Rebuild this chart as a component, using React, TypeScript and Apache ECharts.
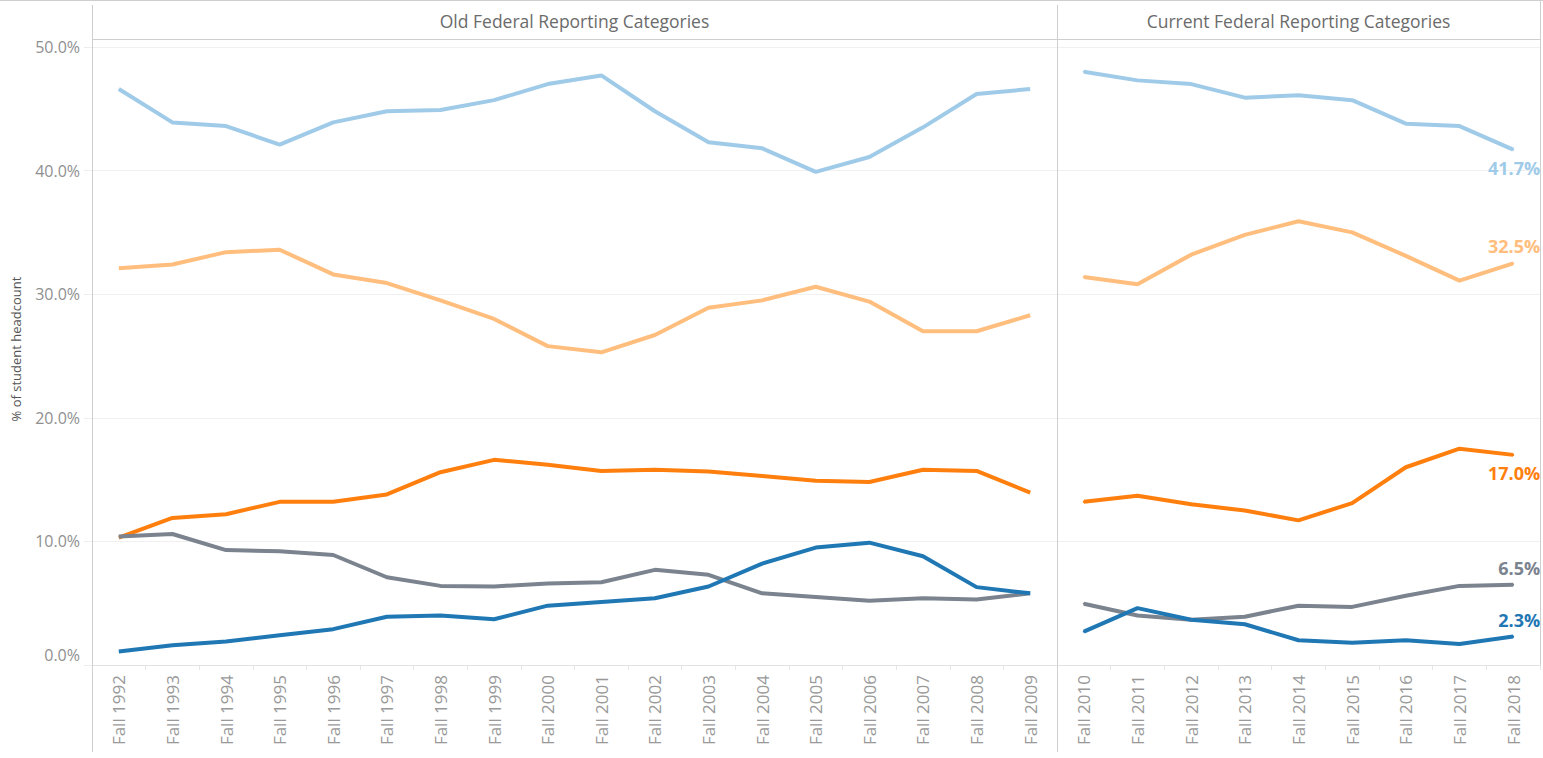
import React, { useEffect, useRef } from "react";
import * as echarts from "echarts";

const oldYears = [
  "Fall 1992", "Fall 1993", "Fall 1994", "Fall 1995", "Fall 1996", "Fall 1997",
  "Fall 1998", "Fall 1999", "Fall 2000", "Fall 2001", "Fall 2002", "Fall 2003",
  "Fall 2004", "Fall 2005", "Fall 2006", "Fall 2007", "Fall 2008", "Fall 2009",
];
const currentYears = [
  "Fall 2010", "Fall 2011", "Fall 2012", "Fall 2013", "Fall 2014",
  "Fall 2015", "Fall 2016", "Fall 2017", "Fall 2018",
];

const yTicks = [0, 10, 20, 30, 40, 50];

const lightBlueOld = [46.6, 43.9, 43.6, 42.1, 43.9, 44.8, 44.9, 45.7, 47.0, 47.7, 44.8, 42.3, 41.8, 39.9, 41.1, 43.5, 46.2, 46.6];
const lightBlueCur = [48.0, 47.3, 47.0, 45.9, 46.1, 45.7, 43.8, 43.6, 41.7];
const lightOrangeOld = [32.1, 32.4, 33.4, 33.6, 31.6, 30.9, 29.5, 28.0, 25.8, 25.3, 26.7, 28.9, 29.5, 30.6, 29.4, 27.0, 27.0, 28.3];
const lightOrangeCur = [31.4, 30.8, 33.2, 34.8, 35.9, 35.0, 33.1, 31.1, 32.5];
const orangeOld = [10.3, 11.9, 12.2, 13.2, 13.2, 13.8, 15.6, 16.6, 16.2, 15.7, 15.8, 15.65, 15.3, 14.9, 14.8, 15.8, 15.7, 13.95];
const orangeCur = [13.2, 13.7, 13.0, 12.5, 11.7, 13.1, 16.0, 17.5, 17.0];
const grayOld = [10.4, 10.6, 9.3, 9.2, 8.9, 7.1, 6.4, 6.35, 6.6, 6.7, 7.7, 7.3, 5.8, 5.5, 5.2, 5.4, 5.3, 5.8];
const grayCur = [4.96, 4.0, 3.66, 3.9, 4.8, 4.7, 5.6, 6.4, 6.5];
const darkBlueOld = [1.1, 1.6, 1.9, 2.4, 2.9, 3.9, 4.0, 3.7, 4.8, 5.1, 5.4, 6.35, 8.2, 9.5, 9.9, 8.8, 6.3, 5.8];
const darkBlueCur = [2.7, 4.6, 3.66, 3.3, 2.0, 1.8, 2.0, 1.7, 2.3];

const groups = [
  { name: "Group 1", color: "#a0cbe8", old: lightBlueOld, cur: lightBlueCur, labelBelow: true },
  { name: "Group 2", color: "#ffbe7d", old: lightOrangeOld, cur: lightOrangeCur, labelBelow: false },
  { name: "Group 3", color: "#ff7f0e", old: orangeOld, cur: orangeCur, labelBelow: true },
  { name: "Group 4", color: "#7b838f", old: grayOld, cur: grayCur, labelBelow: false },
  { name: "Group 5", color: "#1f77b4", old: darkBlueOld, cur: darkBlueCur, labelBelow: false },
];

const FONT = "'Open Sans', 'Noto Sans', sans-serif";

export default function App() {
  const ref = useRef<HTMLDivElement>(null);

  useEffect(() => {
    if (!ref.current) return;
    const chart = echarts.init(ref.current, undefined, { renderer: "svg" });

    const gridTop = 47;
    const gridBottomY = 665;
    const leftX = 92;
    const sepX = 1057;
    const rightX = 1540;

    const xAxisCommon = {
      type: "category" as const,
      boundaryGap: true,
      axisLine: { show: true, lineStyle: { color: "#e2e2e2", width: 1 } },
      axisTick: { show: true, length: 5, lineStyle: { color: "#e6e6e6" } },
      axisLabel: {
        rotate: 90,
        margin: 10,
        color: "#999999",
        fontSize: 17,
        fontFamily: FONT,
        interval: 0,
      },
      splitLine: { show: false },
    };

    const yAxisCommon = {
      type: "value" as const,
      min: yTicks[0],
      max: yTicks[yTicks.length - 1],
      interval: 10,
      axisLine: { show: false },
      splitLine: { show: true, lineStyle: { color: "#f0f0f0", width: 1 } },
    };

    const series: any[] = [];
    groups.forEach((g) => {
      series.push({
        name: g.name,
        type: "line",
        xAxisIndex: 0,
        yAxisIndex: 0,
        data: g.old,
        symbol: "none",
        lineStyle: { color: g.color, width: 4 },
        itemStyle: { color: g.color },
        z: 3,
      });
      series.push({
        name: g.name,
        type: "line",
        xAxisIndex: 1,
        yAxisIndex: 1,
        symbol: "circle",
        symbolSize: 2,
        showSymbol: true,
        lineStyle: { color: g.color, width: 4 },
        itemStyle: { color: g.color },
        z: 3,
        data: g.cur.map((v, i) =>
          i === g.cur.length - 1
            ? {
                value: v,
                label: {
                  show: true,
                  position: [28, g.labelBelow ? 19 : -16],
                  align: "right",
                  verticalAlign: "middle",
                  color: g.color,
                  fontSize: 18,
                  fontWeight: "bold",
                  fontFamily: FONT,
                  formatter: (p: any) => `${Number(p.value).toFixed(1)}%`,
                },
              }
            : v
        ),
      });
    });

    const lineStyle = { stroke: "#cfcfcf", lineWidth: 1 };

    chart.setOption({
      animation: false,
      backgroundColor: "#ffffff",
      grid: [
        { left: leftX, top: gridTop, width: sepX - leftX, height: gridBottomY - gridTop, containLabel: false },
        { left: sepX, top: gridTop, width: rightX - sepX, height: gridBottomY - gridTop, containLabel: false },
      ],
      xAxis: [
        { ...xAxisCommon, gridIndex: 0, data: oldYears },
        { ...xAxisCommon, gridIndex: 1, data: currentYears },
      ],
      yAxis: [
        {
          ...yAxisCommon,
          gridIndex: 0,
          axisTick: { show: true, length: 8, lineStyle: { color: "#eeeeee" } },
          axisLabel: {
            show: true,
            margin: 12,
            color: "#8f8f8f",
            fontSize: 16,
            fontFamily: FONT,
            formatter: (v: number) => (v === 0 ? "{z|0.0%}" : `${v.toFixed(1)}%`),
            rich: {
              z: { padding: [0, 0, 20, 0], color: "#8f8f8f", fontSize: 16, fontFamily: FONT },
            },
          },
        },
        {
          ...yAxisCommon,
          gridIndex: 1,
          axisTick: { show: false },
          axisLabel: { show: false },
        },
      ],
      series,
      graphic: [
        { type: "line", shape: { x1: 0, y1: 0.5, x2: 1543, y2: 0.5 }, style: lineStyle, z: 10 },
        { type: "line", shape: { x1: leftX, y1: 39.5, x2: rightX, y2: 39.5 }, style: lineStyle, z: 10 },
        { type: "line", shape: { x1: leftX + 0.5, y1: 5, x2: leftX + 0.5, y2: 752 }, style: lineStyle, z: 10 },
        { type: "line", shape: { x1: sepX + 0.5, y1: 5, x2: sepX + 0.5, y2: 752 }, style: lineStyle, z: 10 },
        { type: "line", shape: { x1: rightX + 0.5, y1: 0, x2: rightX + 0.5, y2: gridBottomY }, style: lineStyle, z: 10 },
        {
          type: "text",
          x: (leftX + sepX) / 2,
          y: 21,
          style: {
            text: "Old Federal Reporting Categories",
            fill: "#6b6b6b",
            font: `17.5px ${FONT}`,
            textAlign: "center",
            textVerticalAlign: "middle",
          },
        },
        {
          type: "text",
          x: (sepX + rightX) / 2,
          y: 21,
          style: {
            text: "Current Federal Reporting Categories",
            fill: "#6b6b6b",
            font: `17.5px ${FONT}`,
            textAlign: "center",
            textVerticalAlign: "middle",
          },
        },
        {
          type: "text",
          x: 16,
          y: 349,
          rotation: Math.PI / 2,
          style: {
            text: "% of student headcount",
            fill: "#555555",
            font: `13px ${FONT}`,
            textAlign: "center",
            textVerticalAlign: "middle",
          },
        },
      ],
    });

    return () => chart.dispose();
  }, []);

  return (
    <div
      ref={ref}
      style={{ position: "fixed", left: 0, top: 0, width: 1543, height: 758, background: "#fff" }}
    />
  );
}
